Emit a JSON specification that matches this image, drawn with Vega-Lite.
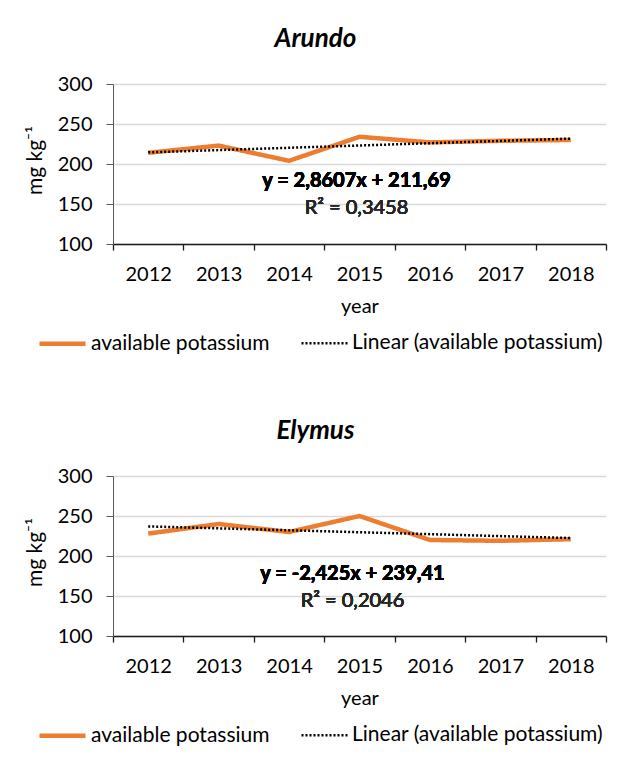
{
  "$schema": "https://vega.github.io/schema/vega-lite/v6.json",
  "padding": {"left": 24, "top": 26, "right": 5, "bottom": 5},
  "background": "white",
  "config": {
    "font": "Lato",
    "view": {"stroke": null},
    "title": {"font": "Lato", "fontSize": 26, "fontStyle": "italic", "fontWeight": "bold", "color": "#000000", "anchor": "middle", "frame": "bounds", "offset": 22},
    "axis": {"labelFont": "Lato", "labelFontSize": 20, "labelColor": "#000000", "labelOverlap": false, "titleFont": "Lato", "titleFontSize": 20, "titleFontWeight": "normal", "titleColor": "#000000"},
    "axisY": {"values": [100, 150, 200, 250, 300], "tickCount": 5, "grid": true, "gridColor": "#d9d9d9", "gridWidth": 1.3, "domainColor": "#595959", "tickColor": "#595959", "tickSize": 7, "labelPadding": 14, "titlePadding": 12, "titleFontSize": 21, "titleY": 76},
    "axisX": {"labelAngle": 0, "tickBand": "extent", "tickSize": 6, "tickColor": "#1a1a1a", "domainColor": "#1a1a1a", "domainWidth": 1.5, "tickWidth": 1.3, "labelPadding": 14, "titlePadding": 12, "grid": false},
    "legend": {"labelFont": "Lato", "labelFontSize": 21, "labelColor": "#000000", "labelLimit": 400}
  },
  "spacing": 64,
  "vconcat": [
    {
      "width": 493,
      "height": 160,
      "title": {"text": "Arundo"},
      "data": {"values": [
        {"year": 2012, "value": 214, "series": "available potassium"},
        {"year": 2013, "value": 223, "series": "available potassium"},
        {"year": 2014, "value": 204, "series": "available potassium"},
        {"year": 2015, "value": 234, "series": "available potassium"},
        {"year": 2016, "value": 227, "series": "available potassium"},
        {"year": 2017, "value": 229, "series": "available potassium"},
        {"year": 2018, "value": 230, "series": "available potassium"},
        {"year": 2012, "value": 214.55, "series": "Linear (available potassium)"},
        {"year": 2018, "value": 231.71, "series": "Linear (available potassium)"}
      ]},
      "layer": [
        {
          "mark": {"type": "line", "strokeCap": "butt"},
          "encoding": {
            "x": {"field": "year", "type": "ordinal", "bandPosition": 0.5,
              "scale": {"type": "band", "paddingInner": 0, "paddingOuter": 0},
              "axis": {"title": "year"}},
            "y": {"field": "value", "type": "quantitative",
              "scale": {"domain": [100, 300], "zero": false, "nice": false},
              "axis": {"title": "mg kg⁻¹", "values": [100, 150, 200, 250, 300]}},
            "color": {"field": "series", "type": "nominal",
              "scale": {"domain": ["available potassium", "Linear (available potassium)"], "range": ["#ED7D31", "#000000"]},
              "legend": {"title": null, "orient": "none", "legendX": -76, "legendY": 234, "direction": "horizontal", "symbolType": "stroke", "symbolSize": 2116, "labelOffset": 3, "columnPadding": 26}},
            "strokeDash": {"field": "series", "type": "nominal",
              "scale": {"domain": ["available potassium", "Linear (available potassium)"], "range": [[1, 0], [2, 2]]},
              "legend": {"title": null, "orient": "none", "legendX": -76, "legendY": 234, "direction": "horizontal", "symbolType": "stroke", "symbolSize": 2116, "labelOffset": 3, "columnPadding": 26}},
            "strokeWidth": {"field": "series", "type": "nominal",
              "scale": {"domain": ["available potassium", "Linear (available potassium)"], "range": [4.5, 2.5]},
              "legend": {"title": null, "orient": "none", "legendX": -76, "legendY": 234, "direction": "horizontal", "symbolType": "stroke", "symbolSize": 2116, "labelOffset": 3, "columnPadding": 26}}
          }
        },
        {
          "mark": {"type": "text", "font": "Lato", "fontSize": 20, "fontWeight": "bold", "fill": "#000000", "baseline": "alphabetic", "align": "center", "dx": -3},
          "encoding": {
            "x": {"datum": 2015, "type": "ordinal", "bandPosition": 0.5},
            "y": {"datum": 171.25, "type": "quantitative", "axis": {"title": "mg kg⁻¹", "values": [100, 150, 200, 250, 300]}},
            "text": {"value": "y = 2,8607x + 211,69"}
          }
        },
        {
          "mark": {"type": "text", "font": "Lato", "fontSize": 20, "fill": "#262626", "baseline": "alphabetic", "align": "center", "dx": -3},
          "encoding": {
            "x": {"datum": 2015, "type": "ordinal", "bandPosition": 0.5},
            "y": {"datum": 137.5, "type": "quantitative", "axis": {"title": "mg kg⁻¹", "values": [100, 150, 200, 250, 300]}},
            "text": {"value": "R² = 0,3458"}
          }
        }
      ]
    },
    {
      "width": 493,
      "height": 160,
      "title": {"text": "Elymus"},
      "data": {"values": [
        {"year": 2012, "value": 228, "series": "available potassium"},
        {"year": 2013, "value": 240, "series": "available potassium"},
        {"year": 2014, "value": 230, "series": "available potassium"},
        {"year": 2015, "value": 250, "series": "available potassium"},
        {"year": 2016, "value": 220, "series": "available potassium"},
        {"year": 2017, "value": 219, "series": "available potassium"},
        {"year": 2018, "value": 221, "series": "available potassium"},
        {"year": 2012, "value": 236.99, "series": "Linear (available potassium)"},
        {"year": 2018, "value": 222.44, "series": "Linear (available potassium)"}
      ]},
      "layer": [
        {
          "mark": {"type": "line", "strokeCap": "butt"},
          "encoding": {
            "x": {"field": "year", "type": "ordinal", "bandPosition": 0.5,
              "scale": {"type": "band", "paddingInner": 0, "paddingOuter": 0},
              "axis": {"title": "year"}},
            "y": {"field": "value", "type": "quantitative",
              "scale": {"domain": [100, 300], "zero": false, "nice": false},
              "axis": {"title": "mg kg⁻¹", "values": [100, 150, 200, 250, 300]}},
            "color": {"field": "series", "type": "nominal",
              "scale": {"domain": ["available potassium", "Linear (available potassium)"], "range": ["#ED7D31", "#000000"]},
              "legend": {"title": null, "orient": "none", "legendX": -76, "legendY": 234, "direction": "horizontal", "symbolType": "stroke", "symbolSize": 2116, "labelOffset": 3, "columnPadding": 26}},
            "strokeDash": {"field": "series", "type": "nominal",
              "scale": {"domain": ["available potassium", "Linear (available potassium)"], "range": [[1, 0], [2, 2]]},
              "legend": {"title": null, "orient": "none", "legendX": -76, "legendY": 234, "direction": "horizontal", "symbolType": "stroke", "symbolSize": 2116, "labelOffset": 3, "columnPadding": 26}},
            "strokeWidth": {"field": "series", "type": "nominal",
              "scale": {"domain": ["available potassium", "Linear (available potassium)"], "range": [4.5, 2.5]},
              "legend": {"title": null, "orient": "none", "legendX": -76, "legendY": 234, "direction": "horizontal", "symbolType": "stroke", "symbolSize": 2116, "labelOffset": 3, "columnPadding": 26}}
          }
        },
        {
          "mark": {"type": "text", "font": "Lato", "fontSize": 20, "fontWeight": "bold", "fill": "#000000", "baseline": "alphabetic", "align": "center", "dx": -7},
          "encoding": {
            "x": {"datum": 2015, "type": "ordinal", "bandPosition": 0.5},
            "y": {"datum": 170, "type": "quantitative", "axis": {"title": "mg kg⁻¹", "values": [100, 150, 200, 250, 300]}},
            "text": {"value": "y = -2,425x + 239,41"}
          }
        },
        {
          "mark": {"type": "text", "font": "Lato", "fontSize": 20, "fill": "#262626", "baseline": "alphabetic", "align": "center", "dx": -7},
          "encoding": {
            "x": {"datum": 2015, "type": "ordinal", "bandPosition": 0.5},
            "y": {"datum": 135.9, "type": "quantitative", "axis": {"title": "mg kg⁻¹", "values": [100, 150, 200, 250, 300]}},
            "text": {"value": "R² = 0,2046"}
          }
        }
      ]
    }
  ],
  "resolve": {"scale": {"x": "independent", "y": "independent", "color": "independent", "strokeDash": "independent", "strokeWidth": "independent"}, "legend": {"color": "independent", "strokeDash": "independent", "strokeWidth": "independent"}}
}
